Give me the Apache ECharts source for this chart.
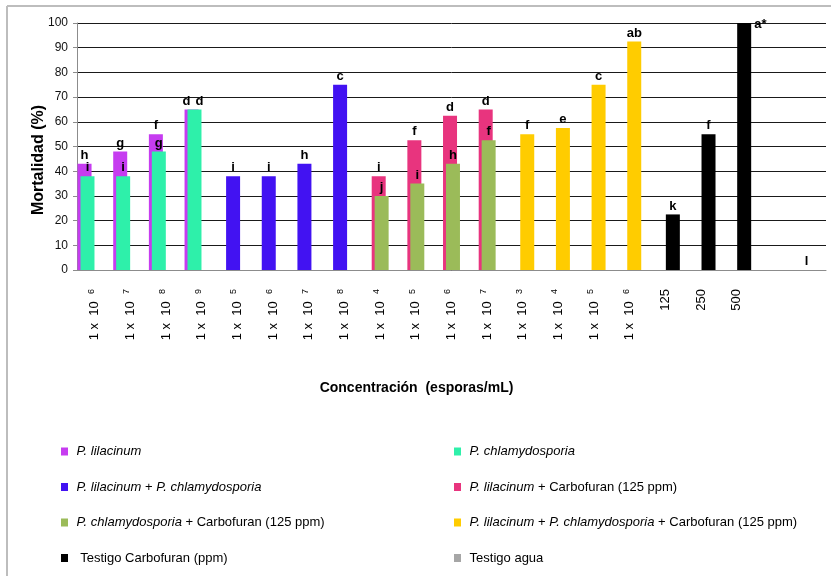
<!DOCTYPE html>
<html>
<head>
<meta charset="utf-8">
<script src="https://cdn.jsdelivr.net/npm/echarts@6/dist/echarts.min.js"></script>
<style>
  html, body { margin: 0; padding: 0; background: #fff; }
  #chart { width: 831px; height: 576px; }
</style>
</head>
<body>
<div id="chart"></div>
<script>
// ---- Data ----
const categories = ['1 x 10^6', '1 x 10^7', '1 x 10^8', '1 x 10^9',
                    '1 x 10^5', '1 x 10^6', '1 x 10^7', '1 x 10^8',
                    '1 x 10^4', '1 x 10^5', '1 x 10^6', '1 x 10^7',
                    '1 x 10^3', '1 x 10^4', '1 x 10^5', '1 x 10^6',
                    '125', '250', '500', '', ''];
const yTicks = [0, 10, 20, 30, 40, 50, 60, 70, 80, 90, 100];

const seriesNames = [
  'P. lilacinum',
  'P. chlamydosporia',
  'P. lilacinum + P. chlamydosporia',
  'P. lilacinum + Carbofuran (125 ppm)',
  'P. chlamydosporia + Carbofuran (125 ppm)',
  'P. lilacinum + P. chlamydosporia + Carbofuran (125 ppm)',
  'Testigo Carbofuran (ppm)',
  'Testigo agua'
];
const N = null;
const lilacinum      = [43, 48, 55, 65, N, N, N, N, N, N, N, N, N, N, N, N, N, N, N, N, N];
const chlamydosporia = [38, 38, 48, 65, N, N, N, N, N, N, N, N, N, N, N, N, N, N, N, N, N];
const lilChl         = [N, N, N, N, 38, 38, 43, 75, N, N, N, N, N, N, N, N, N, N, N, N, N];
const lilCarb        = [N, N, N, N, N, N, N, N, 38, 52.5, 62.5, 65, N, N, N, N, N, N, N, N, N];
const chlCarb        = [N, N, N, N, N, N, N, N, 30, 35, 43, 52.5, N, N, N, N, N, N, N, N, N];
const lilChlCarb     = [N, N, N, N, N, N, N, N, N, N, N, N, 55, 57.5, 75, 92.5, N, N, N, N, N];
const testigoCarb    = [N, N, N, N, N, N, N, N, N, N, N, N, N, N, N, N, 22.5, 55, 100, N, N];
const testigoAgua    = [N, N, N, N, N, N, N, N, N, N, N, N, N, N, N, N, N, N, N, N, 0];

const lettersLil      = ['h', 'g', 'f', 'd'];
const lettersChl      = ['i', 'i', 'g', 'd'];
const lettersLilChl   = ['i', 'i', 'h', 'c'];
const lettersLilCarb  = ['i', 'f', 'd', 'd'];
const lettersChlCarb  = ['j', 'i', 'h', 'f'];
const lettersLilChlCarb = ['f', 'e', 'c', 'ab'];
const lettersTestCarb = ['k', 'f', 'a*'];
const lettersAgua     = ['l'];

const colors = ['#C63CF0', '#2EF0AA', '#4212F2', '#E8347E', '#9BBB59', '#FFCC00', '#000000', '#A6A6A6'];

// ---- Build ----
const allValues = [lilacinum, chlamydosporia, lilChl, lilCarb, chlCarb, lilChlCarb, testigoCarb, testigoAgua];
const allLetters = [lettersLil, lettersChl, lettersLilChl, lettersLilCarb, lettersChlCarb, lettersLilChlCarb, lettersTestCarb, lettersAgua];

const FONT = "'Liberation Sans', Arial, sans-serif";

function buildData(vals, letters, si) {
  let li = 0;
  return vals.map((v, ci) => {
    if (v === null) return { value: null };
    const item = { value: v, label: { formatter: letters[li] } };
    li++;
    if (si === 0 && ci === 3) item.label.offset = [-5, 0];
    if (si === 1 && ci === 3) item.label.offset = [5, 0];
    if (si === 6 && ci === 18) {
      item.label.position = [17, -5];
    }
    if (si === 7) item.label.offset = [-12, 0];
    return item;
  });
}

const series = allValues.map((vals, si) => ({
  name: seriesNames[si],
  type: 'bar',
  barWidth: 14,
  barGap: '-79%',
  itemStyle: { color: colors[si] },
  label: {
    show: true,
    position: 'top',
    distance: 2,
    color: '#000',
    fontFamily: FONT,
    fontWeight: 'bold',
    fontSize: 13
  },
  data: buildData(vals, allLetters[si], si)
}));

function legendFmt(name) {
  switch (name) {
    case 'P. lilacinum': return ' {i|P. lilacinum}';
    case 'P. chlamydosporia': return ' {i|P. chlamydosporia}';
    case 'P. lilacinum + P. chlamydosporia': return ' {i|P. lilacinum} + {i|P. chlamydosporia}';
    case 'P. lilacinum + Carbofuran (125 ppm)': return ' {i|P. lilacinum} + Carbofuran (125 ppm)';
    case 'P. chlamydosporia + Carbofuran (125 ppm)': return ' {i|P. chlamydosporia} + Carbofuran (125 ppm)';
    case 'P. lilacinum + P. chlamydosporia + Carbofuran (125 ppm)': return ' {i|P. lilacinum} + {i|P. chlamydosporia} + Carbofuran (125 ppm)';
    case 'Testigo Carbofuran (ppm)': return '  Testigo Carbofuran (ppm)';
    default: return ' ' + name;
  }
}
const legendText = {
  color: '#000', fontFamily: FONT, fontSize: 13,
  rich: { i: { fontStyle: 'italic', fontFamily: FONT, fontSize: 13, color: '#000' } }
};

const chart = echarts.init(document.getElementById('chart'), null, { renderer: 'canvas' });
chart.setOption({
  animation: false,
  backgroundColor: '#fff',
  color: colors,
  grid: { left: 77, right: 5, top: 23, bottom: 306, containLabel: false },
  graphic: [
    { type: 'line', shape: { x1: 7, y1: 6, x2: 831, y2: 6 }, style: { stroke: '#BDBDBD', lineWidth: 2 } },
    { type: 'line', shape: { x1: 7, y1: 6, x2: 7, y2: 576 }, style: { stroke: '#BDBDBD', lineWidth: 2 } }
  ],
  legend: [
    {
      left: 56, top: 440, orient: 'vertical', itemGap: 22.5,
      itemWidth: 7, itemHeight: 8, icon: 'rect',
      data: [seriesNames[0], seriesNames[2], seriesNames[4], seriesNames[6]],
      formatter: legendFmt, textStyle: legendText, selectedMode: false
    },
    {
      left: 449, top: 440, orient: 'vertical', itemGap: 22.5,
      itemWidth: 7, itemHeight: 8, icon: 'rect',
      data: [seriesNames[1], seriesNames[3], seriesNames[5], seriesNames[7]],
      formatter: legendFmt, textStyle: legendText, selectedMode: false
    }
  ],
  xAxis: {
    type: 'category',
    data: categories,
    boundaryGap: true,
    name: 'Concentración  (esporas/mL)',
    nameLocation: 'middle',
    nameGap: 111,
    nameMoveOverlap: false,
    nameTextStyle: { fontFamily: FONT, fontWeight: 'bold', fontSize: 14, color: '#000', padding: [0, 70, 0, 0] },
    axisLine: { lineStyle: { color: '#8C8C8C', width: 1 } },
    axisTick: { alignWithLabel: true, length: 4, lineStyle: { color: '#8C8C8C' } },
    axisLabel: {
      interval: 0,
      rotate: 90,
      margin: 19,
      color: '#000',
      fontFamily: FONT,
      fontSize: 13,
      formatter: function (v) {
        const p = v.split('^');
        if (p.length === 2) return '{n|' + p[0].replace('x 10', 'x  10') + '  }{s|' + p[1] + '}';
        return '{n|' + v + '}';
      },
      rich: {
        n: { fontFamily: FONT, fontSize: 13, color: '#000', lineHeight: 16 },
        s: { fontFamily: FONT, fontSize: 9, color: '#000', lineHeight: 16, verticalAlign: 'top' }
      }
    }
  },
  yAxis: {
    type: 'value',
    min: 0, max: 100, interval: 10,
    name: 'Mortalidad (%)',
    nameLocation: 'middle',
    nameGap: 30,
    nameMoveOverlap: false,
    nameTextStyle: { fontFamily: FONT, fontWeight: 'bold', fontSize: 16, color: '#000', padding: [0, 27, 0, 0] },
    axisLine: { show: true, lineStyle: { color: '#8C8C8C', width: 1 } },
    axisTick: { show: true, length: 4, lineStyle: { color: '#8C8C8C' } },
    axisLabel: {
      margin: 9, color: '#111', fontFamily: FONT, fontSize: 12,
      formatter: function (v) { return yTicks.indexOf(v) >= 0 ? String(v) : ''; }
    },
    splitLine: { lineStyle: { color: '#1A1A1A', width: 1 } }
  },
  series: series
});
</script>
</body>
</html>
